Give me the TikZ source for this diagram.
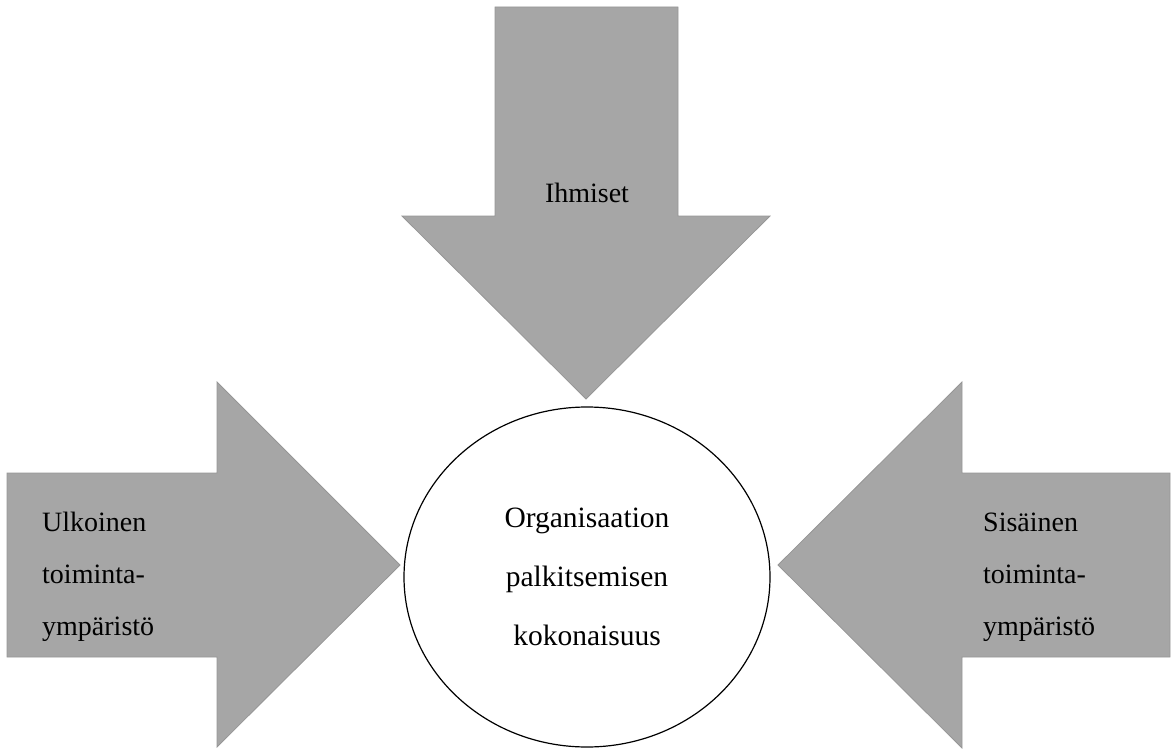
\documentclass[tikz,border=0pt]{standalone}
\usepackage{fontspec}
\setmainfont{Liberation Serif}
\usetikzlibrary{shapes,positioning}
\definecolor{arrowgray}{RGB}{166,166,166}
\definecolor{edgegray}{RGB}{150,150,150}
\begin{document}
\begin{tikzpicture}[x=1pt,y=-1pt]

  \tikzset{big arrow/.style={fill=arrowgray, draw=edgegray,
  		line width=0.8pt}, }
  \tikzset{side text/.style={align=left, inner sep=0pt, anchor=west,
  		font=\fontsize{28}{52}\selectfont}, }
  \tikzset{main node/.style={ellipse, draw, line width=1.2pt,
  		minimum width=366pt, minimum height=340pt, inner sep=0pt,
  		align=center, font=\fontsize{29.5}{59}\selectfont}, }
\useasboundingbox (0,0) rectangle (1172,749);
\path[big arrow] (495,7) -- (678,7) -- (678,216) -- (770,216) -- (586,399)
  -- (402,216) -- (495,216) -- cycle;
\path[big arrow] (7,473) -- (217,473) -- (217,382) -- (400,565) -- (217,747)
  -- (217,657) -- (7,657) -- cycle;
\path[big arrow] (1170,473) -- (962,473) -- (962,382) -- (778,565) -- (962,748)
  -- (962,657) -- (1170,657) -- cycle;
\node[main node] (1) at (587,577) {Organisaation\\palkitsemisen\\kokonaisuus};
\node[inner sep=0pt, anchor=base, font=\fontsize{28}{52}\selectfont] (2) at (587,202) {Ihmiset};
\node[side text] (3) at (42,577) {Ulkoinen\\toiminta-\\ympäristö};
\node[side text] (4) at (983,577) {Sisäinen\\toiminta-\\ympäristö};
%%
\end{tikzpicture}
\end{document}
